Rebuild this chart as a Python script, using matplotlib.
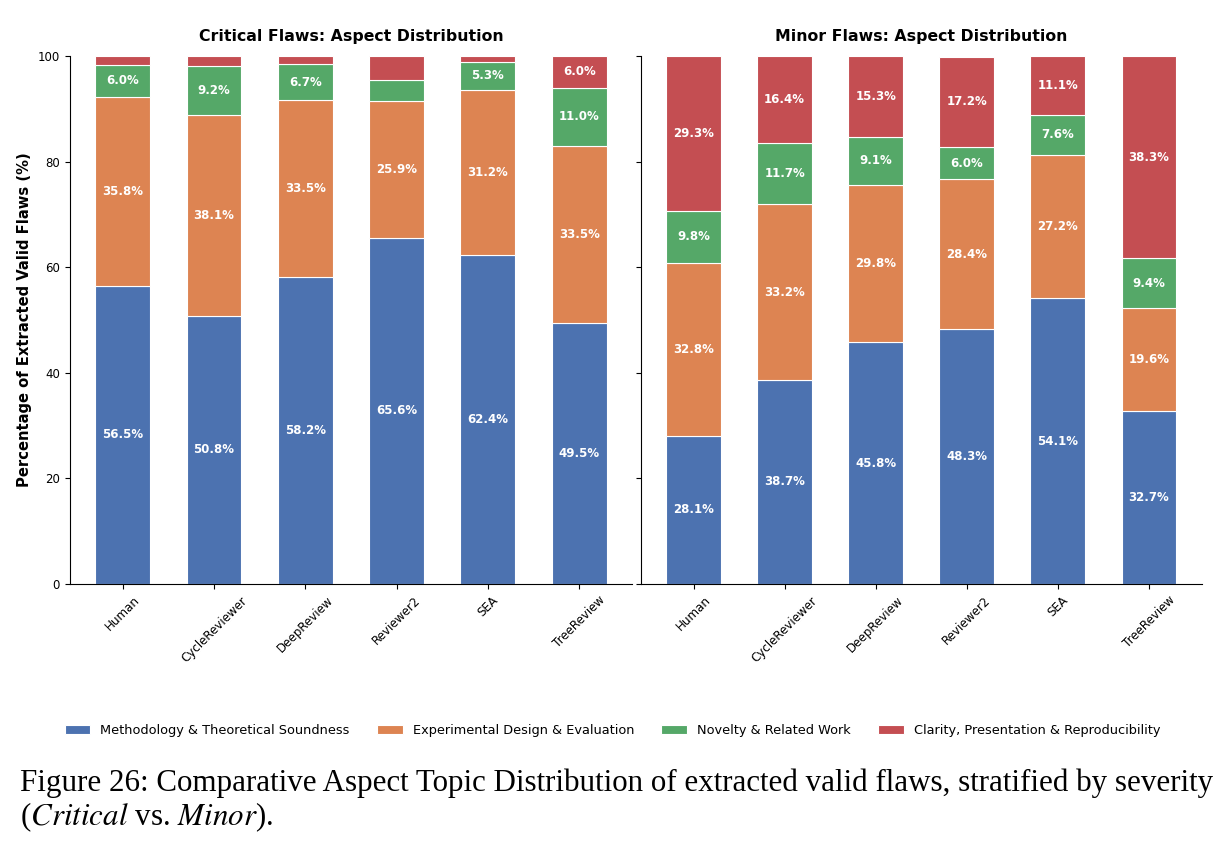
import matplotlib.pyplot as plt
import numpy as np

plt.rcParams['font.family'] = ['DejaVu Sans']

reviewers = ['Human', 'CycleReviewer', 'DeepReview', 'Reviewer2', 'SEA', 'TreeReview']
aspects = ['Methodology & Theoretical Soundness', 'Experimental Design & Evaluation',
           'Novelty & Related Work', 'Clarity, Presentation & Reproducibility']
colors = ['#4C72B0', '#DD8452', '#55A868', '#C44E52']

# 严重缺陷
critical_method = [56.5, 50.8, 58.2, 65.6, 62.4, 49.5]
critical_exp = [35.8, 38.1, 33.5, 25.9, 31.2, 33.5]
critical_novelty = [6.0, 9.2, 6.7, 4.0, 5.3, 11.0]
critical_clarity = [1.7, 1.9, 1.6, 4.5, 1.1, 6.0]

# 轻微缺陷
minor_method = [28.1, 38.7, 45.8, 48.3, 54.1, 32.7]
minor_exp = [32.8, 33.2, 29.8, 28.4, 27.2, 19.6]
minor_novelty = [9.8, 11.7, 9.1, 6.0, 7.6, 9.4]
minor_clarity = [29.3, 16.4, 15.3, 17.2, 11.1, 38.3]

fig = plt.figure(figsize=(12.25, 8.49), dpi=100)
ax1 = fig.add_axes([0.057, 0.312, 0.459, 0.622])
ax2 = fig.add_axes([0.523, 0.312, 0.458, 0.622], sharey=ax1)

x = np.arange(len(reviewers))
width = 0.6


def draw(ax, series, title):
    bottom = np.zeros(len(reviewers))
    bars = []
    for vals, c, name in zip(series, colors, aspects):
        vals = np.array(vals)
        b = ax.bar(x, vals, width=width, bottom=bottom, color=c,
                   edgecolor='white', linewidth=0.8, label=name)
        bars.append(b)
        for xi, v, bt in zip(x, vals, bottom):
            if v >= 5:
                ax.text(xi, bt + v / 2, f'{v:.1f}%', ha='center', va='center',
                        color='white', fontsize=8.5, fontweight='bold')
        bottom += vals
    ax.set_title(title, fontsize=11.3, fontweight='bold', pad=11)
    ax.set_xticks(x)
    ax.set_xticklabels(reviewers, rotation=45, ha='center', fontsize=8.6)
    ax.set_ylim(0, 100)
    ax.spines['top'].set_visible(False)
    ax.spines['right'].set_visible(False)
    ax.tick_params(axis='y', labelsize=8.5)
    return bars


bars = draw(ax1, [critical_method, critical_exp, critical_novelty, critical_clarity],
            'Critical Flaws: Aspect Distribution')
draw(ax2, [minor_method, minor_exp, minor_novelty, minor_clarity],
     'Minor Flaws: Aspect Distribution')
ax1.set_ylabel('Percentage of Extracted Valid Flaws (%)', fontsize=10.6, fontweight='bold')
plt.setp(ax2.get_yticklabels(), visible=False)

fig.legend(bars, aspects, loc='center', bbox_to_anchor=(0.5, 0.139), ncol=4,
           frameon=False, fontsize=9.25, columnspacing=2.1)

cap_font = 'Liberation Serif'
fig.text(0.016, 0.077, 'Figure 26: Comparative Aspect Topic Distribution of extracted valid flaws, stratified by severity',
         family=cap_font, fontsize=22.3, va='center')
fig.text(0.016, 0.037, r'($\mathit{Critical}$ vs. $\mathit{Minor}$).', family=cap_font,
         fontsize=22.3, va='center', math_fontfamily='stix')

fig.savefig('out.png', dpi=100)
